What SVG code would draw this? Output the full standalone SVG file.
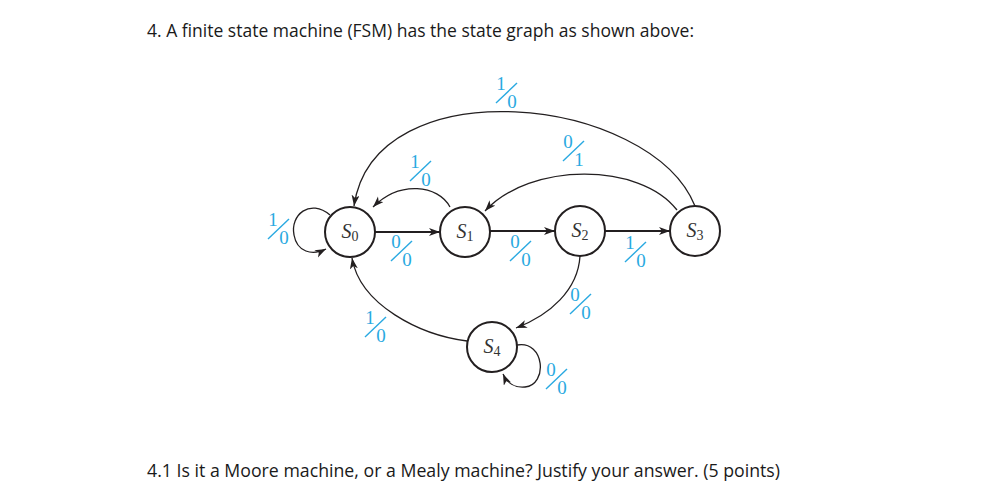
<svg xmlns="http://www.w3.org/2000/svg" width="987" height="500" viewBox="0 0 987 500">
<style>
.node circle{fill:#fff;stroke:#231f20;stroke-width:2}
.node text{font-family:"Liberation Serif",serif;font-size:20px;font-style:italic;fill:#333;text-anchor:middle}
.node tspan{font-size:14px;font-style:normal}
.edge{fill:none;stroke:#231f20;stroke-width:1.3;marker-end:url(#ah)}
.thick{stroke-width:2}
.lbl text{font-family:"Liberation Serif",serif;font-size:19px;fill:#29a9e1;text-anchor:middle}
.lbl line{stroke:#29a9e1;stroke-width:1.4}
.q{font-family:"Open Sans","Liberation Sans",sans-serif;font-size:18px;fill:#1a1a1a}
</style>
<defs>
<marker id="ah" markerUnits="userSpaceOnUse" markerWidth="12" markerHeight="10" refX="11" refY="4" orient="auto">
<path d="M0,0 L11,4 L0,8 L3,4 Z" fill="#231f20"/>
</marker>
</defs>
<rect width="987" height="500" fill="#fff"/>
<text class="q" x="147" y="37" textLength="547" lengthAdjust="spacingAndGlyphs">4. A finite state machine (FSM) has the state graph as shown above:</text>
<text class="q" x="147" y="477" textLength="633" lengthAdjust="spacingAndGlyphs">4.1 Is it a Moore machine, or a Mealy machine? Justify your answer. (5 points)</text>
<g id="connectors">
<path class="edge" d="M330,215 C310,198 290,215 294,235 C297,252 312,256 326,249"/>
<path class="edge" d="M450,207 C438,185 400,180 373,207"/>
<path class="edge" d="M695,206 C650,95 374,66 354,206"/>
<path class="edge" d="M677,210 C640,162 530,162 485,211"/>
<path class="edge thick" d="M375,232 L440,232"/>
<path class="edge thick" d="M490,231 L555,231"/>
<path class="edge thick" d="M605,231 L670,231"/>
<path class="edge" d="M580,256 C578,290 550,315 516,328"/>
<path class="edge" d="M467,341 C420,335 360,305 352,258"/>
<path class="edge" d="M517,345 C545,340 548,385 525,387 C515,388 507,383 503,374"/>
</g>
<g id="labels">
<g class="lbl" transform="translate(273,226)"><text>1</text><text x="11" y="18">0</text><line x1="-5" y1="13" x2="16" y2="-7"/></g>
<g class="lbl" transform="translate(501,90)"><text>1</text><text x="11" y="18">0</text><line x1="-5" y1="13" x2="16" y2="-7"/></g>
<g class="lbl" transform="translate(415,168)"><text>1</text><text x="11" y="18">0</text><line x1="-5" y1="13" x2="16" y2="-7"/></g>
<g class="lbl" transform="translate(568,148)"><text>0</text><text x="11" y="18">1</text><line x1="-5" y1="13" x2="16" y2="-7"/></g>
<g class="lbl" transform="translate(396,248)"><text>0</text><text x="11" y="18">0</text><line x1="-5" y1="13" x2="16" y2="-7"/></g>
<g class="lbl" transform="translate(515,248)"><text>0</text><text x="11" y="18">0</text><line x1="-5" y1="13" x2="16" y2="-7"/></g>
<g class="lbl" transform="translate(630,249)"><text>1</text><text x="11" y="18">0</text><line x1="-5" y1="13" x2="16" y2="-7"/></g>
<g class="lbl" transform="translate(575,301)"><text>0</text><text x="11" y="18">0</text><line x1="-5" y1="13" x2="16" y2="-7"/></g>
<g class="lbl" transform="translate(370,324)"><text>1</text><text x="11" y="18">0</text><line x1="-5" y1="13" x2="16" y2="-7"/></g>
<g class="lbl" transform="translate(551,376)"><text>0</text><text x="11" y="18">0</text><line x1="-5" y1="13" x2="16" y2="-7"/></g>
</g>
<g id="S0" class="node"><circle cx="350" cy="232" r="25"/><text x="350" y="238">S<tspan dy="3">0</tspan></text></g>
<g id="S1" class="node"><circle cx="465" cy="232" r="25"/><text x="465" y="238">S<tspan dy="3">1</tspan></text></g>
<g id="S2" class="node"><circle cx="580" cy="231" r="25"/><text x="580" y="237">S<tspan dy="3">2</tspan></text></g>
<g id="S3" class="node"><circle cx="695" cy="231" r="25"/><text x="695" y="237">S<tspan dy="3">3</tspan></text></g>
<g id="S4" class="node"><circle cx="492" cy="347" r="25"/><text x="492" y="353">S<tspan dy="3">4</tspan></text></g>
</svg>
